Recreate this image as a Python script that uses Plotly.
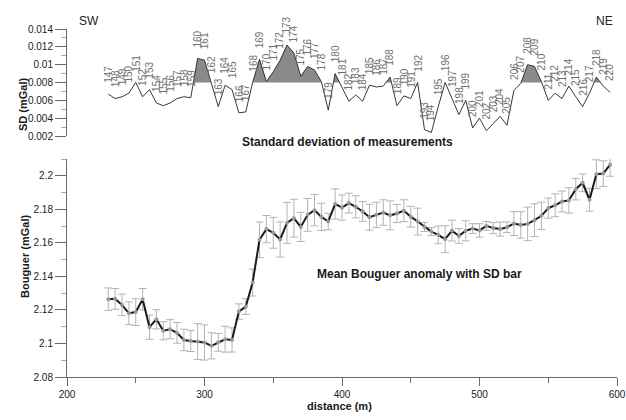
import plotly.graph_objects as go
import numpy as np

stations = list(range(147, 221))
distance = list(range(230, 600, 5))

sd = [0.0067, 0.0062, 0.0064, 0.0068, 0.0080, 0.0064, 0.0072, 0.0057, 0.0054, 0.0057,
      0.0062, 0.0064, 0.0063, 0.0107, 0.0105, 0.0078, 0.0053, 0.0077, 0.0072, 0.0046,
      0.0047, 0.0080, 0.0106, 0.0081, 0.0092, 0.0105, 0.0122, 0.0113, 0.0087, 0.0098,
      0.0094, 0.0081, 0.0049, 0.0090, 0.0075, 0.0059, 0.0066, 0.0059, 0.0077, 0.0075,
      0.0076, 0.0086, 0.0054, 0.0065, 0.0062, 0.0080, 0.0027, 0.0024, 0.0053, 0.0080,
      0.0062, 0.0044, 0.0060, 0.0029, 0.0040, 0.0026, 0.0034, 0.0042, 0.0032, 0.0071,
      0.0079, 0.0100, 0.0098, 0.0081, 0.0060, 0.0068, 0.0062, 0.0076, 0.0064, 0.0053,
      0.0068, 0.0086, 0.0076, 0.0069]

bouguer = [2.1264, 2.1266, 2.1230, 2.1180, 2.1187, 2.1264, 2.1097, 2.1144, 2.1076, 2.1085,
           2.1063, 2.1021, 2.1015, 2.1011, 2.1006, 2.0986, 2.1007, 2.1025, 2.1021, 2.1190,
           2.1220, 2.1363, 2.1618, 2.1682, 2.1660, 2.1620, 2.1719, 2.1747, 2.1695, 2.1767,
           2.1795, 2.1755, 2.1727, 2.1832, 2.1810, 2.1837, 2.1815, 2.1787, 2.1753, 2.1767,
           2.1781, 2.1764, 2.1775, 2.1792, 2.1756, 2.1727, 2.1695, 2.1667, 2.1648, 2.1622,
           2.1673, 2.1641, 2.1672, 2.1685, 2.1674, 2.1701, 2.1688, 2.1682, 2.1693, 2.1715,
           2.1707, 2.1713, 2.1735, 2.1761, 2.1807, 2.1824, 2.1847, 2.1853, 2.1920, 2.1958,
           2.1857, 2.2009, 2.2013, 2.2066]

threshold = 0.008

sd_ticks = [0.002, 0.004, 0.006, 0.008, 0.010, 0.012, 0.014]
sd_ticktext = ["0.002", "0.004", "0.006", "0.008", "0.01", "0.012", "0.014"]
bg_ticks = [2.08, 2.10, 2.12, 2.14, 2.16, 2.18, 2.20]
bg_ticktext = ["2.08", "2.1", "2.12", "2.14", "2.16", "2.18", "2.2"]
x_ticks = [200, 300, 400, 500, 600]

# shaded area above threshold, derived from the data with threshold crossings
fx, fy = [], []
for i in range(len(sd)):
    if i > 0:
        a, b = sd[i - 1] - threshold, sd[i] - threshold
        if a * b < 0:
            t = a / (a - b)
            fx.append(distance[i - 1] + t * (distance[i] - distance[i - 1]))
            fy.append(threshold)
    fx.append(distance[i])
    fy.append(max(sd[i], threshold))

fig = go.Figure()

fig.add_trace(go.Scatter(x=fx, y=[threshold] * len(fx), mode="lines",
                         line=dict(width=0, color="rgba(0,0,0,0)"),
                         xaxis="x2", yaxis="y2", hoverinfo="skip", showlegend=False))
fig.add_trace(go.Scatter(x=fx, y=fy, mode="lines", fill="tonexty",
                         fillcolor="#8a8a8a", line=dict(width=0, color="rgba(0,0,0,0)"),
                         xaxis="x2", yaxis="y2", hoverinfo="skip", showlegend=False))
fig.add_trace(go.Scatter(x=distance, y=sd, mode="lines",
                         line=dict(width=0.9, color="#222222"),
                         xaxis="x2", yaxis="y2", showlegend=False))

# error bars (below the line)
fig.add_trace(go.Scatter(x=distance, y=bouguer, mode="markers",
                         marker=dict(size=1, color="rgba(0,0,0,0)"),
                         error_y=dict(type="data", array=sd, visible=True,
                                      color="#b4b4b4", thickness=1, width=4),
                         xaxis="x", yaxis="y", showlegend=False))
fig.add_trace(go.Scatter(x=distance, y=bouguer, mode="lines+markers",
                         line=dict(width=2, color="#1a1a1a"),
                         marker=dict(size=4, color="#9a9a9a", symbol="circle"),
                         xaxis="x", yaxis="y", showlegend=False))

annotations = []
for s, d, v in zip(stations, distance, sd):
    annotations.append(dict(x=d, y=v, xref="x2", yref="y2", text=str(s),
                            showarrow=False, textangle=-90, xanchor="center",
                            yanchor="bottom", yshift=9,
                            font=dict(family="Liberation Sans, Arial", size=10, color="#707070")))

def px_x(p):
    return (p - 67) / 550.0

def px_y(p):
    return (377 - p) / 348.0

bold = dict(family="Liberation Sans, Arial", size=12, color="#1a1a1a")
annotations += [
    dict(x=px_x(77), y=px_y(12), xref="paper", yref="paper", text="SW", showarrow=False,
         font=dict(family="Liberation Sans, Arial", size=12, color="#222")),
    dict(x=px_x(615), y=px_y(12), xref="paper", yref="paper", text="NE", showarrow=False,
         font=dict(family="Liberation Sans, Arial", size=12, color="#222")),
    dict(x=px_x(15), y=px_y(75), xref="paper", yref="paper", text="<b>SD (mGal)</b>",
         showarrow=False, textangle=-90, font=dict(family="Liberation Sans, Arial", size=11, color="#1a1a1a")),
    dict(x=px_x(17), y=px_y(257), xref="paper", yref="paper", text="<b>Bouguer (mGal)</b>",
         showarrow=False, textangle=-90, font=dict(family="Liberation Sans, Arial", size=11, color="#1a1a1a")),
    dict(x=px_x(339), y=px_y(413), xref="paper", yref="paper", text="<b>distance (m)</b>",
         showarrow=False, borderpad=0, font=dict(family="Liberation Sans, Arial", size=11, color="#1a1a1a")),
    dict(x=px_x(240), y=px_y(133), xref="paper", yref="paper",
         text="<b>Standard deviation of measurements</b>", showarrow=False, font=bold),
    dict(x=px_x(419), y=px_y(283), xref="paper", yref="paper",
         text="<b>Mean Bouguer anomaly with SD bar</b>", showarrow=False, font=bold),
]

axis_col = "#6a6a6a"
tickfont = dict(family="Liberation Sans, Arial", size=10, color="#222")

fig.update_layout(
    template="none",
    width=626, height=420,
    margin=dict(l=67, r=9, t=29, b=43, pad=0),
    paper_bgcolor="white", plot_bgcolor="white",
    showlegend=False,
    xaxis=dict(domain=[0, 1], range=[200, 600], anchor="y", automargin=False,
               tickvals=x_ticks, ticks="outside", ticklen=8, tickcolor=axis_col,
               showline=True, linecolor=axis_col, linewidth=1, showgrid=False, zeroline=False,
               tickfont=tickfont,
               minor=dict(dtick=50, tick0=200, ticks="outside", ticklen=5, tickcolor=axis_col, showgrid=False)),
    yaxis=dict(domain=[0, px_y(159)], range=[2.08, 2.21], anchor="x", automargin=False,
               tickvals=bg_ticks, ticktext=bg_ticktext, ticks="outside", ticklen=11, tickcolor=axis_col,
               showline=True, linecolor=axis_col, linewidth=1, showgrid=False, zeroline=False,
               tickfont=tickfont,
               minor=dict(dtick=0.01, tick0=2.08, ticks="outside", ticklen=5, tickcolor="#aaaaaa", showgrid=False)),
    xaxis2=dict(domain=[0, 1], range=[200, 600], anchor="y2", visible=False, automargin=False),
    yaxis2=dict(domain=[px_y(136), 1], range=[0.002, 0.014], anchor="x2", automargin=False,
                tickvals=sd_ticks, ticktext=sd_ticktext, ticks="outside", ticklen=11, tickcolor=axis_col,
                showline=True, linecolor=axis_col, linewidth=1, showgrid=False, zeroline=False,
                tickfont=tickfont,
                minor=dict(dtick=0.001, tick0=0.002, ticks="outside", ticklen=5, tickcolor="#aaaaaa", showgrid=False)),
    annotations=annotations,
)

fig.write_html("out.html", config={"displayModeBar": False},
               post_script="document.body.style.margin='0px';document.body.style.overflow='hidden';")
